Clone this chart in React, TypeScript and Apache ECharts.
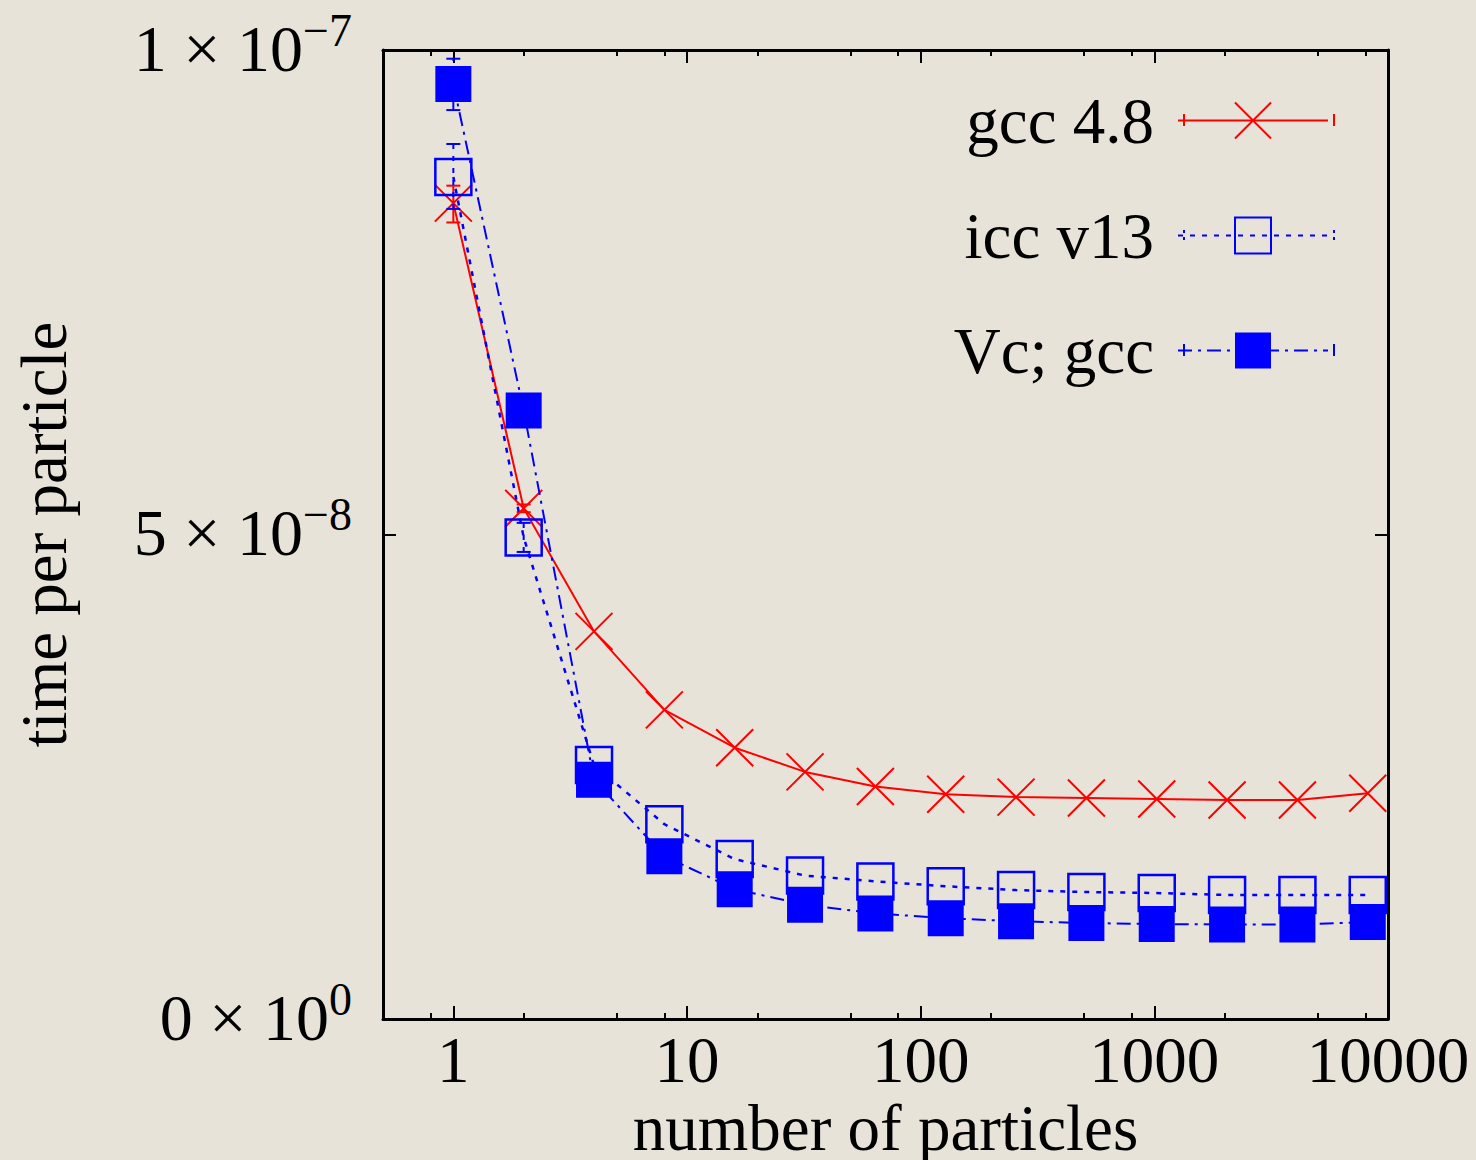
import React, { useEffect, useRef } from 'react';
import * as echarts from 'echarts';

// ---- data ----
const particles = [1, 2, 4, 8, 16, 32, 64, 128, 256, 512, 1024, 2048, 4096, 8192];
const gcc48 = [8.42e-8, 5.27e-8, 4.0e-8, 3.19e-8, 2.8e-8, 2.55e-8, 2.4e-8, 2.32e-8, 2.29e-8, 2.28e-8, 2.27e-8, 2.26e-8, 2.26e-8, 2.33e-8];
const iccV13 = [8.69e-8, 4.97e-8, 2.62e-8, 2.01e-8, 1.65e-8, 1.48e-8, 1.42e-8, 1.37e-8, 1.33e-8, 1.31e-8, 1.3e-8, 1.28e-8, 1.28e-8, 1.28e-8];
const vcGcc = [9.65e-8, 6.28e-8, 2.47e-8, 1.68e-8, 1.34e-8, 1.18e-8, 1.09e-8, 1.04e-8, 1.01e-8, 0.99e-8, 0.98e-8, 0.975e-8, 0.975e-8, 1.0e-8];

// error bars: [x, low, high]
const gccErr = [[1, 8.22e-8, 8.6e-8], [2, 5.23e-8, 5.31e-8]];
const iccErr = [[1, 8.36e-8, 9.03e-8], [2, 4.82e-8, 5.12e-8]];
const vcErr = [[1, 9.38e-8, 9.91e-8]];

const xMajorTicks = [1, 10, 100, 1000, 10000];
const xMinorTicks = [0.8, 2, 5, 8, 20, 50, 80, 200, 500, 800, 2000, 5000, 8000];
const yTickMantissa = ['0', '5', '1'];
const yTickExponent = ['0', '\u22128', '\u22127'];

const seriesNames = ['gcc 4.8', 'icc v13', 'Vc; gcc'];

const FONT = "'Liberation Serif', 'Times New Roman', serif";
const BG = '#e7e3d9';
const RED = '#ff0000';
const BLUE = '#0000ff';
const ICC_DASH = [5, 7];
const VC_DASH = [14, 6, 3, 6];

// legend layout
const LEG_RIGHT = 142;
const LEG_TOP = 83;
const LEG_ITEM_W = 150;
const LEG_ROW_Y = [120, 236, 350];
const LEG_CAP_STYLE = [
  { color: RED, dash: null },
  { color: BLUE, dash: [3, 4] },
  { color: BLUE, dash: null },
];

const errRender = (color: string, dash: any) => (params: any, api: any) => {
  const x = api.value(0);
  const lo = api.coord([x, api.value(1)]);
  const hi = api.coord([x, api.value(2)]);
  const hw = 7;
  return {
    type: 'group',
    children: [
      { type: 'line', shape: { x1: lo[0], y1: lo[1], x2: hi[0], y2: hi[1] }, style: { stroke: color, lineWidth: 2, lineDash: dash } },
      { type: 'line', shape: { x1: lo[0] - hw, y1: lo[1], x2: lo[0] + hw, y2: lo[1] }, style: { stroke: color, lineWidth: 2 } },
      { type: 'line', shape: { x1: hi[0] - hw, y1: hi[1], x2: hi[0] + hw, y2: hi[1] }, style: { stroke: color, lineWidth: 2 } },
    ],
  };
};

const textBase = { fontFamily: FONT, color: '#000', fontSize: 65 };

function xAxisDef(position: 'top' | 'bottom', major: boolean, extra: any = {}) {
  return {
    type: 'log',
    logBase: 10,
    min: 0.5,
    max: 10000,
    position,
    gridIndex: 0,
    axisLine: { show: major, onZero: false, lineStyle: { color: '#000', width: 3 } },
    axisTick: {
      show: true,
      inside: true,
      length: major ? 13 : 6,
      customValues: major ? xMajorTicks : xMinorTicks,
      lineStyle: { color: '#000', width: 2 },
    },
    axisLabel: { show: false },
    splitLine: { show: false },
    minorTick: { show: false },
    ...extra,
  };
}

export default function App() {
  const ref = useRef<HTMLDivElement>(null);
  useEffect(() => {
    if (!ref.current) return;
    const chart = echarts.init(ref.current, null, { renderer: 'svg' });
    const W = 1476;
    const capX = [W - LEG_RIGHT - LEG_ITEM_W, W - LEG_RIGHT];
    const capElems: any[] = [];
    LEG_ROW_Y.forEach((y, r) => {
      capX.forEach((x) => {
        capElems.push({
          type: 'line',
          shape: { x1: x, y1: y - 6, x2: x, y2: y + 6 },
          style: { stroke: LEG_CAP_STYLE[r].color, lineWidth: 2, lineDash: LEG_CAP_STYLE[r].dash },
          silent: true,
        });
      });
    });
    const option: any = {
      animation: false,
      backgroundColor: BG,
      grid: { left: 383, right: 88, top: 50, bottom: 141, containLabel: false, outerBoundsMode: 'none' },
      xAxis: [
        xAxisDef('bottom', true, {
          axisLabel: {
            show: true,
            customValues: xMajorTicks,
            formatter: (v: number) => String(Math.round(v)),
            margin: 8,
            ...textBase,
          },
          name: 'number of particles',
          nameLocation: 'middle',
          nameGap: 76,
          nameMoveOverlap: false,
          nameTextStyle: { ...textBase },
        }),
        xAxisDef('bottom', false),
        xAxisDef('top', true),
        xAxisDef('top', false),
      ],
      yAxis: [
        {
          type: 'value',
          min: 0,
          max: 1e-7,
          interval: 5e-8,
          position: 'left',
          axisLine: { show: true, onZero: false, lineStyle: { color: '#000', width: 3 } },
          axisTick: { show: true, inside: true, length: 13, lineStyle: { color: '#000', width: 2 } },
          splitLine: { show: false },
          axisLabel: {
            margin: 31,
            formatter: (v: number) => {
              const i = Math.round(v / 5e-8);
              return `{m|${yTickMantissa[i]} \u00d7 10}{e|${yTickExponent[i]}}`;
            },
            rich: {
              m: { ...textBase, fontSize: 66, padding: [0, 0, 4, 0] },
              e: { fontFamily: FONT, color: '#000', fontSize: 46, padding: [0, 0, 40, 0] },
            },
          },
          name: 'time per particle',
          nameLocation: 'middle',
          nameRotate: 90,
          nameGap: 307,
          nameMoveOverlap: false,
          nameTextStyle: { ...textBase },
        },
        {
          type: 'value',
          min: 0,
          max: 1e-7,
          interval: 5e-8,
          position: 'right',
          axisLine: { show: true, onZero: false, lineStyle: { color: '#000', width: 3 } },
          axisTick: { show: true, inside: true, length: 13, lineStyle: { color: '#000', width: 2 } },
          axisLabel: { show: false },
          splitLine: { show: false },
        },
      ],
      legend: {
        data: seriesNames,
        orient: 'vertical',
        right: LEG_RIGHT,
        top: LEG_TOP,
        align: 'right',
        itemWidth: LEG_ITEM_W,
        itemHeight: 45,
        itemGap: 50,
        formatter: '{a|{name}}',
        textStyle: {
          ...textBase,
          rich: { a: { ...textBase, lineHeight: 70, padding: [0, 19, 0, 0] } },
        },
      },
      graphic: { elements: capElems },
      series: [
        {
          type: 'custom',
          renderItem: errRender(RED, null),
          data: gccErr,
          encode: { x: 0, y: [1, 2] },
          clip: false,
          silent: true,
          z: 2,
        },
        {
          name: seriesNames[0],
          type: 'line',
          data: particles.map((x, i) => [x, gcc48[i]]),
          symbol: 'path://M0,0L10,10M10,0L0,10',
          symbolSize: 37,
          lineStyle: { color: RED, width: 2 },
          itemStyle: { color: RED, borderColor: RED, borderWidth: 2 },
          z: 3,
        },
        {
          type: 'custom',
          renderItem: errRender(BLUE, ICC_DASH),
          data: iccErr,
          encode: { x: 0, y: [1, 2] },
          clip: false,
          silent: true,
          z: 4,
        },
        {
          name: seriesNames[1],
          type: 'line',
          data: particles.map((x, i) => [x, iccV13[i]]),
          symbol: 'rect',
          symbolSize: 36,
          lineStyle: { color: BLUE, width: 2.5, type: ICC_DASH },
          itemStyle: { color: 'rgba(0,0,0,0)', borderColor: BLUE, borderWidth: 2.5 },
          z: 5,
        },
        {
          type: 'custom',
          renderItem: errRender(BLUE, VC_DASH),
          data: vcErr,
          encode: { x: 0, y: [1, 2] },
          clip: false,
          silent: true,
          z: 6,
        },
        {
          name: seriesNames[2],
          type: 'line',
          data: particles.map((x, i) => [x, vcGcc[i]]),
          symbol: 'rect',
          symbolSize: 36,
          lineStyle: { color: BLUE, width: 2, type: VC_DASH },
          itemStyle: { color: BLUE },
          z: 7,
        },
      ],
    };
    chart.setOption(option);
    return () => chart.dispose();
  }, []);
  return (
    <div
      ref={ref}
      style={{ position: 'fixed', left: 0, top: 0, width: 1476, height: 1160, background: BG }}
    />
  );
}
